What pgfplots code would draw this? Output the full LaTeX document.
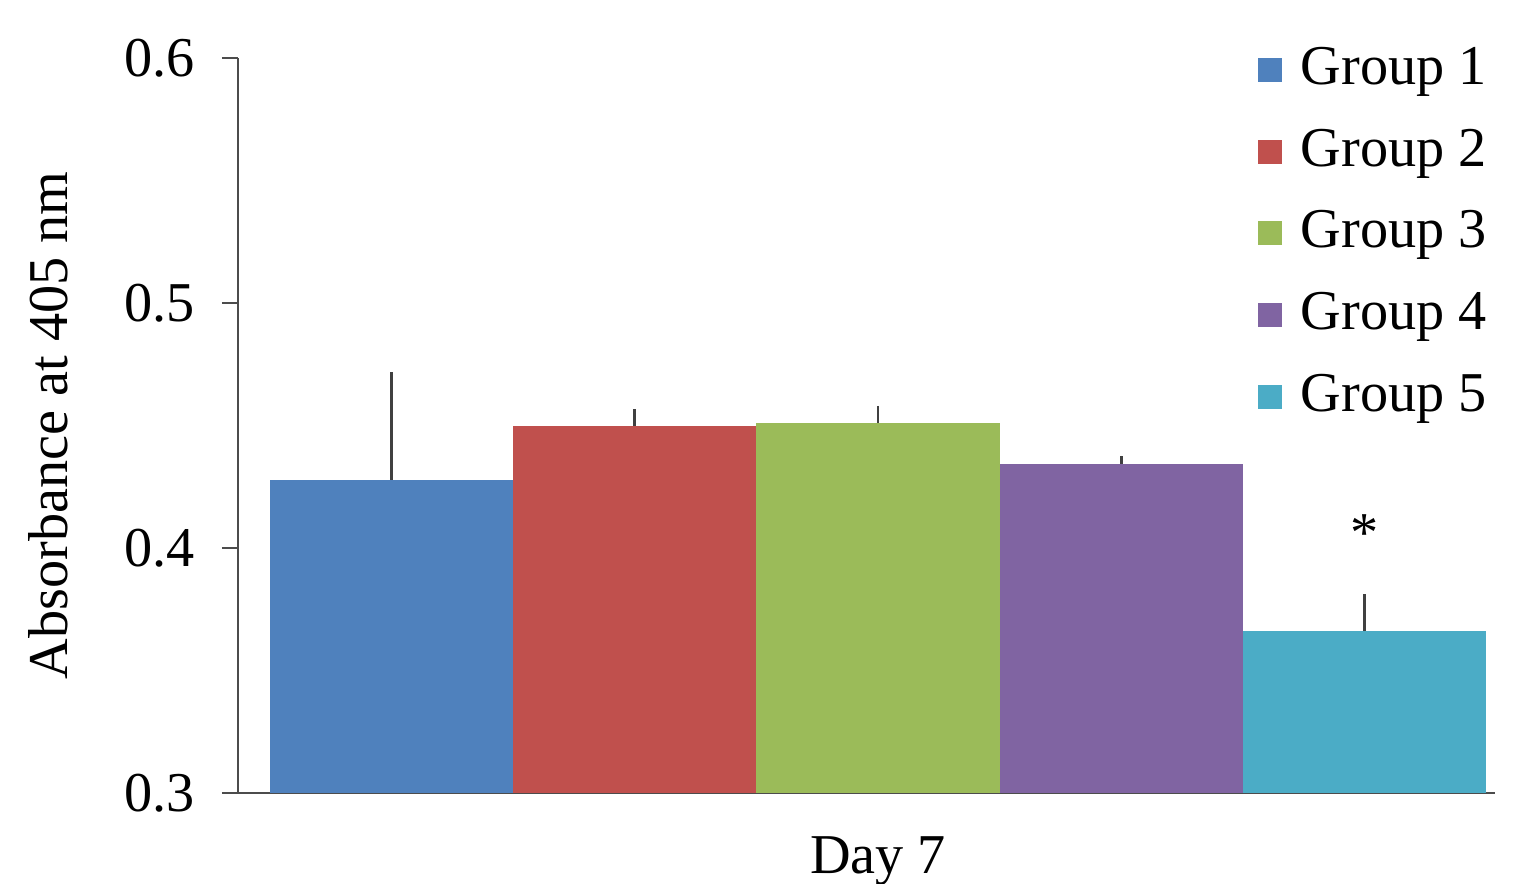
\documentclass[border=0pt]{standalone}
\usepackage{fontspec}
\setmainfont{Liberation Serif}
\usepackage{pgfplots}
\pgfplotsset{compat=1.18}
\definecolor{g1}{HTML}{4F81BD}
\definecolor{g2}{HTML}{C0504D}
\definecolor{g3}{HTML}{9BBB59}
\definecolor{g4}{HTML}{8064A2}
\definecolor{g5}{HTML}{4BACC6}
\begin{document}
\fontsize{16}{19}\selectfont
\begin{tikzpicture}
\begin{axis}[
  scale only axis,
  width=12.57cm, height=7.35cm,
  xmin=0.368, xmax=5.537,
  ymin=0.3, ymax=0.6,
  ytick={0.3,0.4,0.5,0.6},
  yticklabel style={/pgf/number format/fixed,/pgf/number format/precision=1,/pgf/number format/fixed zerofill, xshift=-0.08cm},
  /pgf/number format/assume math mode=true,
  xtick={3}, xticklabels={Day 7},
  x tick style={draw=none},
  y tick style={black!70, line width=0.8pt},
  major tick length=0.16cm,
  tick align=outside,
  axis x line*=bottom, axis y line*=left,
  axis line style={black!70, line width=0.8pt},
  ticklabel style={font=\fontsize{16}{19}\selectfont},
  xticklabel style={yshift=-0.08cm},
  ylabel={Absorbance at 405 nm},
  ylabel style={font=\fontsize{16}{19}\selectfont, yshift=0.18cm},
  ybar, bar width=1, bar shift=0pt,
  legend style={at={(1.008,1.035)}, anchor=north east, draw=none, fill=none,
    font=\fontsize{16}{19}\selectfont, row sep=0.22cm},
  legend cell align=left,
  legend image code/.code={\fill[#1] (0cm,-0.12cm) rectangle (0.24cm,0.12cm); \path (0.36cm,0cm);},
  error bars/y dir=plus, error bars/y explicit,
  error bars/error mark=none,
  error bars/error bar style={black!75, line width=0.8pt},
]
\addplot[fill=g1, draw=none] coordinates {(1,0.4278) +- (0,0.0440)};
\addlegendentry{Group 1}
\addplot[fill=g2, draw=none] coordinates {(2,0.4498) +- (0,0.0069)};
\addlegendentry{Group 2}
\addplot[fill=g3, draw=none] coordinates {(3,0.4510) +- (0,0.0070)};
\addlegendentry{Group 3}
\addplot[fill=g4, draw=none] coordinates {(4,0.4343) +- (0,0.0033)};
\addlegendentry{Group 4}
\addplot[fill=g5, draw=none] coordinates {(5,0.3661) +- (0,0.0151)};
\addlegendentry{Group 5}
\node at (axis cs:5,0.406) {*};
\end{axis}
\pgfresetboundingbox
\useasboundingbox (current axis.south west) ++(-2.38cm,-0.90cm) rectangle ++(15.16cm,8.83cm);
\end{tikzpicture}
\end{document}
